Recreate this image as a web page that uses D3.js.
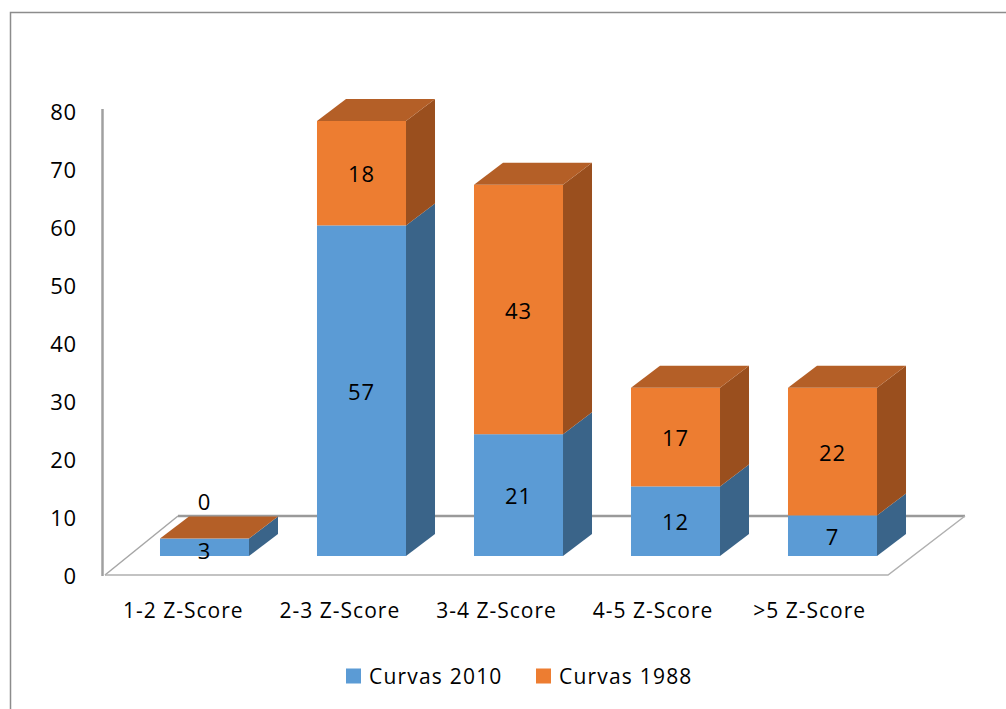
<!DOCTYPE html>
<html>
<head>
<meta charset="utf-8">
<script src="https://cdn.jsdelivr.net/npm/d3@7"></script>
<style>
  html, body { margin: 0; padding: 0; background: #ffffff; }
  svg { display: block; }
  text { font-family: "Open Sans", "Noto Sans", sans-serif; fill: #000; }
</style>
</head>
<body>
<svg id="chart" width="1006" height="709"></svg>
<script>
// ---- data ----
const categories = ["1-2 Z-Score", "2-3 Z-Score", "3-4 Z-Score", "4-5 Z-Score", ">5 Z-Score"];
const curvas2010 = [3, 57, 21, 12, 7];
const curvas1988 = [0, 18, 43, 17, 22];
const seriesNames = ["Curvas 2010", "Curvas 1988"];
const yTicks = [0, 10, 20, 30, 40, 50, 60, 70, 80];

// ---- styles ----
const colors = {
  "Curvas 2010": { front: "#5b9bd5", side: "#3a6489", top: "#4a7fb0" },
  "Curvas 1988": { front: "#ed7d31", side: "#9a4f1e", top: "#b45f27" }
};

const svg = d3.select("#chart");

// chart border (only left and top visible)
svg.append("path")
  .attr("d", "M10.5,709 L10.5,12.5 L1006,12.5")
  .attr("fill", "none").attr("stroke", "#8c8c8c").attr("stroke-width", 1.5);

// scales
const yBar = d3.scaleLinear().domain([0, 80]).range([556, 92]);     // bar front faces
const yAxisS = d3.scaleLinear().domain([0, 80]).range([575, 111]);  // tick labels
const xBar = d3.scaleBand().domain(categories).range([126, 911]).paddingInner(0.433).paddingOuter(0.2165);
const xFloor = d3.scaleBand().domain(categories).range([105, 888]);
const depth = { dx: 29, dy: -22 };

// floor
const floorFront = 575, floorBack = 516;
const fl = { x0: 105, x1: 888, bx0: 178, bx1: 965 };
svg.append("path")
  .attr("d", `M${fl.x0},${floorFront} L${fl.bx0},${floorBack}`)
  .attr("stroke", "#a6a6a6").attr("stroke-width", 1.5).attr("fill", "none");
svg.append("path")
  .attr("d", `M${fl.bx0},${floorBack} L${fl.bx1},${floorBack}`)
  .attr("stroke", "#9a9a9a").attr("stroke-width", 2.5).attr("fill", "none");
svg.append("path")
  .attr("d", `M${fl.bx1},${floorBack} L${fl.x1},${floorFront} L${fl.x0},${floorFront}`)
  .attr("stroke", "#b0b0b0").attr("stroke-width", 1.5).attr("fill", "none");

// vertical axis line
svg.append("line")
  .attr("x1", 102.5).attr("x2", 102.5)
  .attr("y1", yAxisS(80) - 2).attr("y2", floorFront + 1)
  .attr("stroke", "#a0a0a0").attr("stroke-width", 2.5);

// y tick labels
svg.append("g").selectAll("text").data(yTicks).join("text")
  .attr("x", 77).attr("y", d => yAxisS(d))
  .attr("text-anchor", "end").attr("dominant-baseline", "central")
  .style("font-size", "22px").style("letter-spacing", "0.8px")
  .text(d => d);

// stacked data
const rows = categories.map((c, i) => ({ cat: c, "Curvas 2010": curvas2010[i], "Curvas 1988": curvas1988[i] }));
const stack = d3.stack().keys(seriesNames)(rows);

const bars = svg.append("g");
const labels = [];
categories.forEach((cat, i) => {
  const x0 = xBar(cat), x1 = x0 + xBar.bandwidth();
  stack.forEach((layer, li) => {
    const key = layer.key;
    const [v0, v1] = layer[i];
    const yb = yBar(v0), yt = yBar(v1);
    const c = colors[key];
    const g = bars.append("g");
    // front face
    g.append("rect").attr("x", x0).attr("y", yt).attr("width", x1 - x0).attr("height", Math.max(0, yb - yt))
      .attr("fill", c.front);
    // side face
    g.append("path")
      .attr("d", `M${x1},${yt} L${x1 + depth.dx},${yt + depth.dy} L${x1 + depth.dx},${yb + depth.dy} L${x1},${yb} Z`)
      .attr("fill", c.side);
    // top face only for the topmost segment
    if (li === stack.length - 1) {
      g.append("path")
        .attr("d", `M${x0},${yt} L${x0 + depth.dx},${yt + depth.dy} L${x1 + depth.dx},${yt + depth.dy} L${x1},${yt} Z`)
        .attr("fill", c.top);
    }
    const val = v1 - v0;
    labels.push({
      x: (x0 + x1) / 2,
      y: val === 0 ? yt + depth.dy - 16 : (yb + yt) / 2 + (val < 4 ? 3 : 0),
      text: val
    });
  });
});

svg.append("g").selectAll("text").data(labels).join("text")
  .attr("x", d => d.x).attr("y", d => d.y)
  .attr("text-anchor", "middle").attr("dominant-baseline", "central")
  .style("font-size", "22px").style("letter-spacing", "0.8px")
  .text(d => d.text);

// category labels
svg.append("g").selectAll("text").data(categories).join("text")
  .attr("x", d => xFloor(d) + xFloor.bandwidth() / 2).attr("y", 610)
  .attr("text-anchor", "middle").attr("dominant-baseline", "central")
  .style("font-size", "21px").style("letter-spacing", "1px")
  .text(d => d);

// legend
const legendX = [346, 536];
const lg = svg.append("g").selectAll("g").data(seriesNames).join("g")
  .attr("transform", (d, i) => `translate(${legendX[i]},676)`);
lg.append("rect").attr("x", 0).attr("y", -7.5).attr("width", 15).attr("height", 15)
  .attr("fill", d => colors[d].front);
lg.append("text").attr("x", 23).attr("y", 0).attr("dominant-baseline", "central")
  .style("font-size", "21px").style("letter-spacing", "1.2px")
  .text(d => d);
</script>
</body>
</html>
